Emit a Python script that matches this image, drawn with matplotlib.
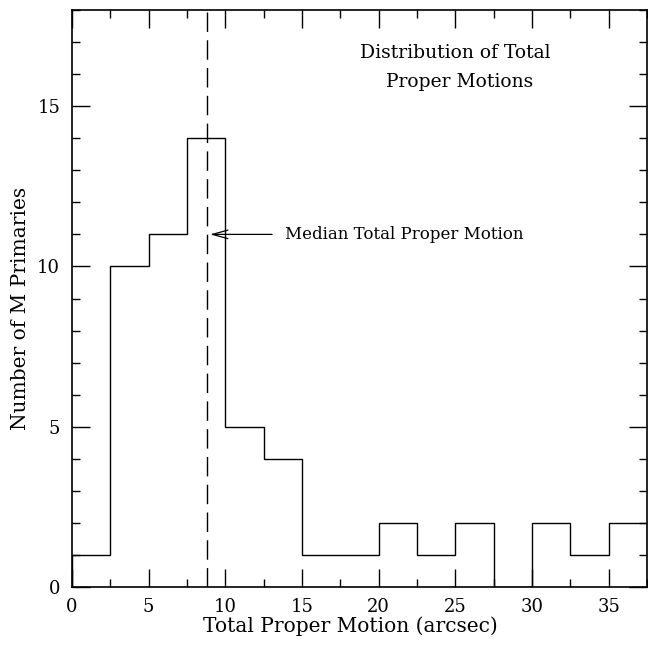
import matplotlib
matplotlib.use("Agg")
import matplotlib.pyplot as plt
from matplotlib.ticker import MultipleLocator

bin_edges = [0, 2.5, 5, 7.5, 10, 12.5, 15, 17.5, 20, 22.5, 25, 27.5, 30, 32.5, 35, 37.5]
counts = [1, 10, 11, 14, 5, 4, 1, 1, 2, 1, 2, 0, 2, 1, 2]
median_pm = 8.8

plt.rcParams['font.family'] = ['DejaVu Serif']
fig = plt.figure(figsize=(6.48, 6.48), dpi=100)
ax = fig.add_axes([72/648, 61/648, 575/648, 577/648])

ax.annotate('', xy=(9.0, 11), xytext=(13.05, 11),
            arrowprops=dict(arrowstyle='->,head_length=0.8,head_width=0.22', color='black',
                            lw=0.9, shrinkA=0, shrinkB=0, mutation_scale=14))
ax.stairs(counts, bin_edges, color='black', linewidth=1.0, zorder=3)
ax.axvline(median_pm, color='black', linewidth=1.0, dashes=(14, 6))

ax.text(13.9, 11, 'Median Total Proper Motion', fontsize=12, va='center', ha='left')
ax.text(24.98, 16.50, 'Distribution of Total', fontsize=13.5, ha='center', va='baseline')
ax.text(25.3, 15.59, 'Proper Motions', fontsize=13.5, ha='center', va='baseline')

ax.set_xlim(0, 37.5)
ax.set_ylim(0, 18)
ax.xaxis.set_major_locator(MultipleLocator(5))
ax.xaxis.set_minor_locator(MultipleLocator(2.5))
ax.yaxis.set_major_locator(MultipleLocator(5))
ax.yaxis.set_minor_locator(MultipleLocator(1))
ax.tick_params(which='both', direction='in', top=True, right=True, labelsize=13, width=1.0)
ax.tick_params(which='major', length=13)
ax.tick_params(which='minor', length=6)
ax.tick_params(axis='x', pad=8)
ax.tick_params(axis='y', pad=8.5)
for s in ax.spines.values():
    s.set_linewidth(1.2)

ax.set_xlabel('Total Proper Motion (arcsec)', fontsize=14.5)
ax.set_ylabel('Number of M Primaries', fontsize=14.5)
ax.xaxis.set_label_coords(0.4835, -0.050)
ax.yaxis.set_label_coords(-0.073, 0.4835)

fig.savefig('out.png', dpi=100)
